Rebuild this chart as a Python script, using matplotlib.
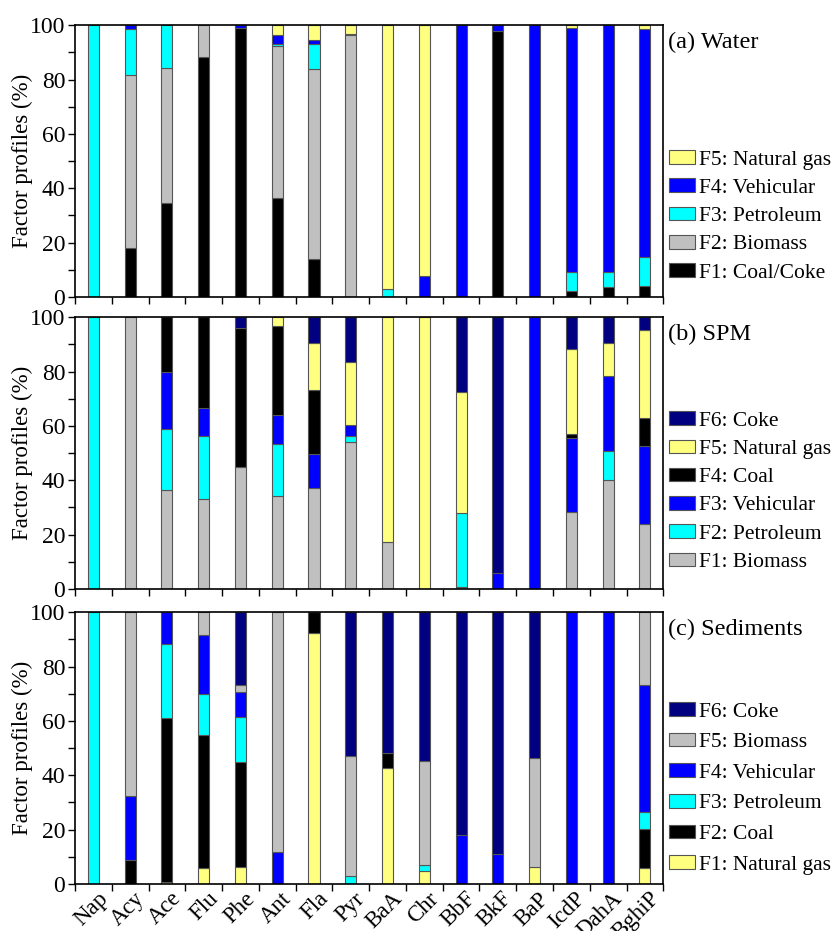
import numpy as np
import matplotlib
matplotlib.use("Agg")
import matplotlib.pyplot as plt
from matplotlib.patches import Patch
from matplotlib.ticker import MultipleLocator

plt.rcParams["font.family"] = ["Liberation Serif", "DejaVu Serif"]

pahs = ["Nap", "Acy", "Ace", "Flu", "Phe", "Ant", "Fla", "Pyr",
        "BaA", "Chr", "BbF", "BkF", "BaP", "IcdP", "DahA", "BghiP"]

# (a) Water, bottom to top
water_coal_coke = [0, 18.1, 34.6, 88.2, 99.1, 36.3, 14.1, 0, 0, 0, 0, 97.8, 0, 2.1, 3.6, 4.2]
water_biomass = [0, 63.6, 49.7, 11.8, 0, 56.1, 69.8, 96.2, 0, 0, 0, 0, 0, 0, 0, 0]
water_petroleum = [100, 16.7, 15.7, 0, 0, 0.6, 9.1, 0, 2.9, 0, 0, 0, 0, 7.2, 5.7, 10.6]
water_vehicular = [0, 1.6, 0, 0, 0.9, 3.2, 1.5, 0.7, 0, 7.8, 100, 2.2, 100, 89.8, 90.7, 83.6]
water_natgas = [0, 0, 0, 0, 0, 3.8, 5.5, 3.1, 97.1, 92.2, 0, 0, 0, 0.9, 0, 1.6]

# (b) SPM
spm_biomass = [0, 100, 36.5, 33.1, 45.0, 34.4, 37.1, 54.2, 17.4, 0, 0.7, 0, 0, 28.3, 40.0, 24.1]
spm_petroleum = [100, 0, 22.5, 23.1, 0, 18.9, 0, 2.0, 0, 0, 27.2, 0, 0, 0, 10.6, 0]
spm_vehicular = [0, 0, 21.0, 10.4, 0, 10.7, 12.5, 4.1, 0, 0, 0, 6.0, 100, 27.4, 27.7, 28.7]
spm_coal = [0, 0, 20.0, 33.4, 51.1, 32.7, 23.8, 0, 0, 0, 0, 0, 0, 1.2, 0, 10.3]
spm_natgas = [0, 0, 0, 0, 0, 3.3, 17.0, 23.4, 82.6, 100, 44.5, 0, 0, 31.4, 12.3, 32.2]
spm_coke = [0, 0, 0, 0, 3.9, 0, 9.6, 16.3, 0, 0, 27.6, 94.0, 0, 11.7, 9.4, 4.7]

# (c) Sediments
sed_natgas = [0, 0, 0.6, 5.8, 6.4, 0, 92.5, 0, 42.5, 4.9, 0, 0, 6.4, 0, 0, 5.7]
sed_coal = [0, 9.0, 60.3, 48.9, 38.6, 0, 7.5, 0, 5.5, 0, 0, 0, 0, 0, 0, 14.7]
sed_petroleum = [100, 0, 27.2, 15.3, 16.5, 0, 0, 3.1, 0, 1.9, 0, 0, 0, 0, 0, 6.0]
sed_vehicular = [0, 23.4, 11.9, 21.5, 9.3, 11.7, 0, 0, 0, 0, 18.1, 11.1, 0, 100, 100, 46.7]
sed_biomass = [0, 67.6, 0, 8.5, 2.3, 88.3, 0, 44.0, 0, 38.4, 0, 0, 40.0, 0, 0, 26.9]
sed_coke = [0, 0, 0, 0, 26.9, 0, 0, 52.9, 52.0, 54.8, 81.9, 88.9, 53.6, 0, 0, 0]

BLACK, GRAY, CYAN, BLUE, YELLOW, NAVY = "#000000", "#C0C0C0", "#00FFFF", "#0000FF", "#FFFF80", "#000080"

panels = [
    ("(a) Water", [
        ("F1: Coal/Coke", water_coal_coke, BLACK),
        ("F2: Biomass", water_biomass, GRAY),
        ("F3: Petroleum", water_petroleum, CYAN),
        ("F4: Vehicular", water_vehicular, BLUE),
        ("F5: Natural gas", water_natgas, YELLOW),
    ], 0.540, 0.41),
    ("(b) SPM", [
        ("F1: Biomass", spm_biomass, GRAY),
        ("F2: Petroleum", spm_petroleum, CYAN),
        ("F3: Vehicular", spm_vehicular, BLUE),
        ("F4: Coal", spm_coal, BLACK),
        ("F5: Natural gas", spm_natgas, YELLOW),
        ("F6: Coke", spm_coke, NAVY),
    ], 0.654, 0.41),
    ("(c) Sediments", [
        ("F1: Natural gas", sed_natgas, YELLOW),
        ("F2: Coal", sed_coal, BLACK),
        ("F3: Petroleum", sed_petroleum, CYAN),
        ("F4: Vehicular", sed_vehicular, BLUE),
        ("F5: Biomass", sed_biomass, GRAY),
        ("F6: Coke", sed_coke, NAVY),
    ], 0.669, 0.52),
]

fig = plt.figure(figsize=(8.38, 9.31), dpi=100)
left, width, height = 0.0895, 0.702, 0.292
bottoms = [0.681, 0.3673, 0.0505]
x = np.arange(len(pahs))

for i, (title, factors, leg_top, leg_space) in enumerate(panels):
    ax = fig.add_axes([left, bottoms[i], width, height])
    base = np.zeros(len(pahs))
    handles = []
    for label, vals, color in factors:
        vals = np.asarray(vals, dtype=float)
        m = vals > 0
        ax.bar(x[m], vals[m], bottom=base[m], width=0.3, color=color,
               edgecolor="#555555", linewidth=0.8)
        base += vals
        handles.append(Patch(facecolor=color, edgecolor="#555555", linewidth=0.8, label=label))
    ax.set_xlim(-0.5, len(pahs) - 0.5)
    ax.set_ylim(0, 100)
    ax.yaxis.set_major_locator(MultipleLocator(20))
    ax.yaxis.set_minor_locator(MultipleLocator(10))
    ax.set_xticks(np.arange(len(pahs) + 1) - 0.5)
    ax.tick_params(axis="both", direction="out", length=5, width=1, labelsize=17, pad=2)
    ax.tick_params(axis="y", which="minor", direction="out", length=5, width=1)
    ax.set_xticklabels([])
    for s in ax.spines.values():
        s.set_linewidth(1.2)
    ax.set_ylabel("Factor profiles (%)", fontsize=16.5)
    ax.yaxis.set_label_coords(-0.072, 0.5)
    ax.text(1.008, 0.975, title, transform=ax.transAxes, fontsize=17.5,
            ha="left", va="top")
    ax.legend(handles=handles[::-1], loc="upper left", bbox_to_anchor=(1.01, leg_top),
              borderaxespad=0, borderpad=0, frameon=False, fontsize=15.5,
              handlelength=1.2, handleheight=0.6, handletextpad=0.2,
              labelspacing=leg_space)
    if i == 2:
        ax.set_xticks(x + 0.1, minor=True)
        ax.set_xticklabels(pahs, minor=True, rotation=45, ha="right", va="top",
                           rotation_mode="anchor", fontsize=16.5)
        ax.tick_params(axis="x", which="minor", length=0, pad=3)

fig.savefig("out.png", dpi=100)
